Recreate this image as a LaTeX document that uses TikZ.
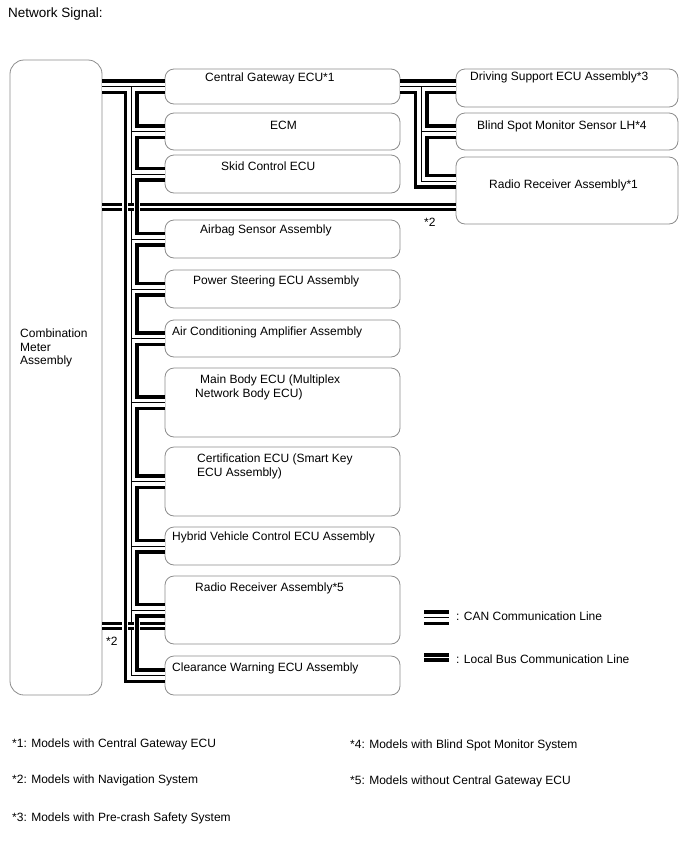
\documentclass[tikz,border=0pt]{standalone}
\usepackage{fontspec}
\setmainfont{Liberation Sans}
\usetikzlibrary{calc}
\begin{document}
\begin{tikzpicture}[x=1pt,y=-1pt,
  box/.style={draw=black!45, line width=0.8pt, rounded corners=9pt, inner sep=0pt},
  lbox/.style={box, minimum width=235pt},
  rbox/.style={box, minimum width=222pt},
  txt/.style={anchor=west, inner sep=0pt, font=\fontsize{12}{14}\selectfont},
  canA/.style={line width=15pt, black, line join=miter},
  canB/.style={line width=8pt, white, line join=miter},
  canC/.style={line width=1pt, black, line join=miter},
  lbA/.style={line width=8.5pt, black},
  lbB/.style={line width=1.5pt, white},
]
\useasboundingbox (0,0) rectangle (688,852);

% boxes
\node[box, rounded corners=14pt, minimum width=92pt, minimum height=635pt] (meter) at (56,377.5) {};
\node[lbox, minimum height=35pt] (cgw)  at (282.5,86.5) {};
\node[lbox, minimum height=37pt] (ecm)  at (282.5,131.5) {};
\node[lbox, minimum height=38pt] (skid) at (282.5,174) {};
\node[lbox, minimum height=38pt] (air)  at (282.5,239) {};
\node[lbox, minimum height=38pt] (ps)   at (282.5,289) {};
\node[lbox, minimum height=37pt] (ac)   at (282.5,338.5) {};
\node[lbox, minimum height=69pt] (mb)   at (282.5,402.5) {};
\node[lbox, minimum height=69pt] (cert) at (282.5,481.5) {};
\node[lbox, minimum height=38pt] (hv)   at (282.5,546) {};
\node[lbox, minimum height=68pt] (rr5)  at (282.5,610) {};
\node[lbox, minimum height=39pt] (clr)  at (282.5,675.5) {};
\node[rbox, minimum height=38pt] (drv)  at (567,88) {};
\node[rbox, minimum height=37pt] (bsm)  at (567,131.5) {};
\node[rbox, minimum height=67pt] (rr1)  at (567,190.5) {};

% bus coordinates
\coordinate (bx) at (131,0);
\coordinate (rbx) at (421,0);
\coordinate (rr1c) at (456,181);
\coordinate (lbt) at (456,207);
\coordinate (lbb) at (165,626);

% CAN lines
\foreach \sty in {canA,canB,canC}{
  \draw[\sty] (cgw.west -| meter.east) -- (cgw.west);
  \draw[\sty] (bx |- cgw.west) -- (bx |- clr.west) -- (clr.west);
  \foreach \b in {ecm,skid,air,ps,ac,mb,cert,hv,rr5}{
    \draw[\sty] (bx |- \b.west) -- (\b.west);
  }
  \draw[\sty] (cgw.east) -- (cgw.east -| drv.west);
  \draw[\sty] (rbx |- cgw.east) -- (rbx |- rr1c) -- (rr1c);
  \draw[\sty] (rbx |- bsm.west) -- (bsm.west);
}

% local bus lines
\coordinate (lbt1) at (122,207);
\coordinate (lbt2) at (140,207);
\coordinate (lbt3) at (128,207);
\coordinate (lbt4) at (134,207);
\coordinate (lbb1) at (122,626);
\coordinate (lbb2) at (140,626);
\coordinate (lbb3) at (128,626);
\coordinate (lbb4) at (134,626);
\foreach \sty in {lbA,lbB}{
  \draw[\sty] (lbt -| meter.east) -- (lbt1);
  \draw[\sty] (lbt2) -- (lbt);
  \draw[\sty] (lbt3) -- (lbt4);
  \draw[\sty] (lbb -| meter.east) -- (lbb1);
  \draw[\sty] (lbb2) -- (lbb);
  \draw[\sty] (lbb3) -- (lbb4);
}

% legend icons
\coordinate (lgc1) at (424,617.5);
\coordinate (lgc2) at (449,617.5);
\coordinate (lgl1) at (424,657.7);
\coordinate (lgl2) at (449,657.7);
\foreach \sty in {canA,canB,canC}{ \draw[\sty] (lgc1) -- (lgc2); }
\foreach \sty in {lbA,lbB}{ \draw[\sty] (lgl1) -- (lgl2); }

% texts
\node[txt, font=\fontsize{13.5}{15}\selectfont] (title) at (8,14) {Network Signal:};
\node[txt] (tcgw) at (205,78) {Central Gateway ECU*1};
\node[txt] (tecm) at (270,125) {ECM};
\node[txt] (tskid) at (221,166) {Skid Control ECU};
\node[txt] (tair) at (200,230) {Airbag Sensor Assembly};
\node[txt] (tps) at (193,281) {Power Steering ECU Assembly};
\node[txt] (tac) at (172,332) {Air Conditioning Amplifier Assembly};
\node[txt] (tmb1) at (200,380) {Main Body ECU (Multiplex};
\node[txt] (tmb2) at (195,394) {Network Body ECU)};
\node[txt] (tce1) at (197,459) {Certification ECU (Smart Key};
\node[txt] (tce2) at (197,473) {ECU Assembly)};
\node[txt] (thv) at (172,537) {Hybrid Vehicle Control ECU Assembly};
\node[txt] (trr5) at (195,588) {Radio Receiver Assembly*5};
\node[txt] (tclr) at (172,668) {Clearance Warning ECU Assembly};
\node[txt] (tdrv) at (470,77) {Driving Support ECU Assembly*3};
\node[txt] (tbsm) at (477,126) {Blind Spot Monitor Sensor LH*4};
\node[txt] (trr1) at (489,185) {Radio Receiver Assembly*1};
\node[txt] (tm1) at (20,333) {Combination};
\node[txt] (tm2) at (20,347) {Meter};
\node[txt] (tm3) at (20,361) {Assembly};
\node[txt] (s2a) at (424,222) {*2};
\node[txt] (s2b) at (106,641) {*2};
\node[txt] (tlc) at (456,616) {: CAN Communication Line};
\node[txt] (tll) at (456,659) {: Local Bus Communication Line};
\node[txt] (f1) at (12,744) {*1: Models with Central Gateway ECU};
\node[txt] (f2) at (12,780) {*2: Models with Navigation System};
\node[txt] (f3) at (12,818) {*3: Models with Pre-crash Safety System};
\node[txt] (f4) at (350,745) {*4: Models with Blind Spot Monitor System};
\node[txt] (f5) at (350,781) {*5: Models without Central Gateway ECU};
\end{tikzpicture}
\end{document}
